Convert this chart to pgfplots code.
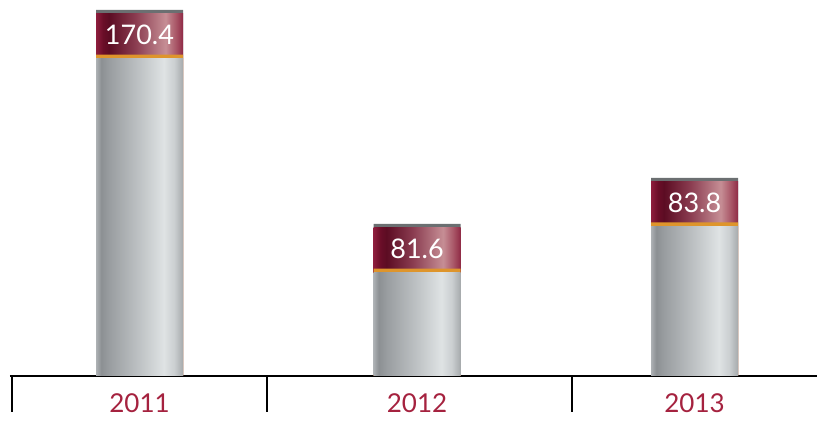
\documentclass[border=0pt]{standalone}
\usepackage{pgfplots}
\pgfplotsset{compat=1.18}
\usepackage{fontspec}
\setmainfont{Lato}
\definecolor{yearred}{HTML}{A5223F}
\definecolor{capgray}{HTML}{6B6F71}
\definecolor{bandorange}{HTML}{DE952C}
\definecolor{ga}{HTML}{ADB1B4}
\definecolor{gb}{HTML}{8C9093}
\definecolor{gc}{HTML}{999DA0}
\definecolor{gd}{HTML}{C4C8CA}
\definecolor{ge}{HTML}{DFE3E4}
\definecolor{gf}{HTML}{CBCFD1}
\definecolor{gg}{HTML}{A6AAAC}
\definecolor{ma}{HTML}{8E1D3D}
\definecolor{mb}{HTML}{6A0E28}
\definecolor{mc}{HTML}{5C0C23}
\definecolor{md}{HTML}{8A3C50}
\definecolor{me}{HTML}{C68E95}
\definecolor{mf}{HTML}{A85566}
\definecolor{mg}{HTML}{8F2A45}
\pgfdeclarehorizontalshading{graybody}{100bp}{color(0bp)=(ga); color(25bp)=(ga); color(28bp)=(gb); color(32.5bp)=(gc); color(52.5bp)=(gd); color(64bp)=(ge); color(70bp)=(gf); color(75bp)=(gg); color(100bp)=(gg)}
\pgfdeclarehorizontalshading{maroonband}{100bp}{color(0bp)=(ma); color(25bp)=(ma); color(29bp)=(mb); color(32.5bp)=(mc); color(47.5bp)=(md); color(65bp)=(me); color(71bp)=(mf); color(75bp)=(mg); color(100bp)=(mg)}
\pgfplotsset{mybar/.style={ybar, bar width=43.5pt, bar shift=0pt, draw=none}}
\begin{document}
\begin{tikzpicture}
\begin{axis}[
  scale only axis, width=408.5pt, height=211pt,
  xmin=-0.5027, xmax=2.4414, ymin=-21.42, ymax=175.05,
  axis x line=middle, axis y line=none,
  x axis line style={draw=none},
  xtick={0,1,2}, xticklabels={2011,2012,2013},
  major tick length=0pt,
  xticklabel style={font=\fontsize{13}{13}\selectfont, text=yearred, yshift=-5.5pt},
  clip=false,
]
\draw[black, line width=0.75pt] (axis cs:-0.4667,0) -- (axis cs:2.4414,0);
\draw[black, line width=0.8pt] (axis cs:-0.459,0) -- (axis cs:-0.459,-16.62);
\draw[black, line width=0.8pt] (axis cs:0.459,0) -- (axis cs:0.459,-16.62);
\draw[black, line width=0.8pt] (axis cs:1.559,0) -- (axis cs:1.559,-16.62);
% top caps
\addplot[mybar, fill=capgray] coordinates {(0,170.4) (1,70.77) (2,92.18)};
% maroon bands, one plot per bar so each gets its own shading
\addplot[mybar, shade, shading=maroonband] coordinates {(0,168.68)};
\addplot[mybar, shade, shading=maroonband] coordinates {(1,68.90)};
\addplot[mybar, shade, shading=maroonband] coordinates {(2,90.32)};
% orange lines
\addplot[mybar, fill=bandorange] coordinates {(0,149.60) (1,49.97) (2,71.52)};
% grey bodies
\addplot[mybar, shade, shading=graybody] coordinates {(0,147.59)};
\addplot[mybar, shade, shading=graybody] coordinates {(1,47.95)};
\addplot[mybar, shade, shading=graybody] coordinates {(2,69.51)};
% value labels
\addplot[draw=none, mark=none, nodes near coords, point meta=explicit symbolic,
  nodes near coords style={anchor=center, text=white, font=\fontsize{13.5}{13.5}\selectfont}]
  coordinates {(0,159.06)[170.4] (1,59.36)[81.6] (2,80.85)[83.8]};
\end{axis}
\pgfresetboundingbox
\useasboundingbox (0,0) rectangle (408.5pt,211pt);
\end{tikzpicture}
\end{document}
